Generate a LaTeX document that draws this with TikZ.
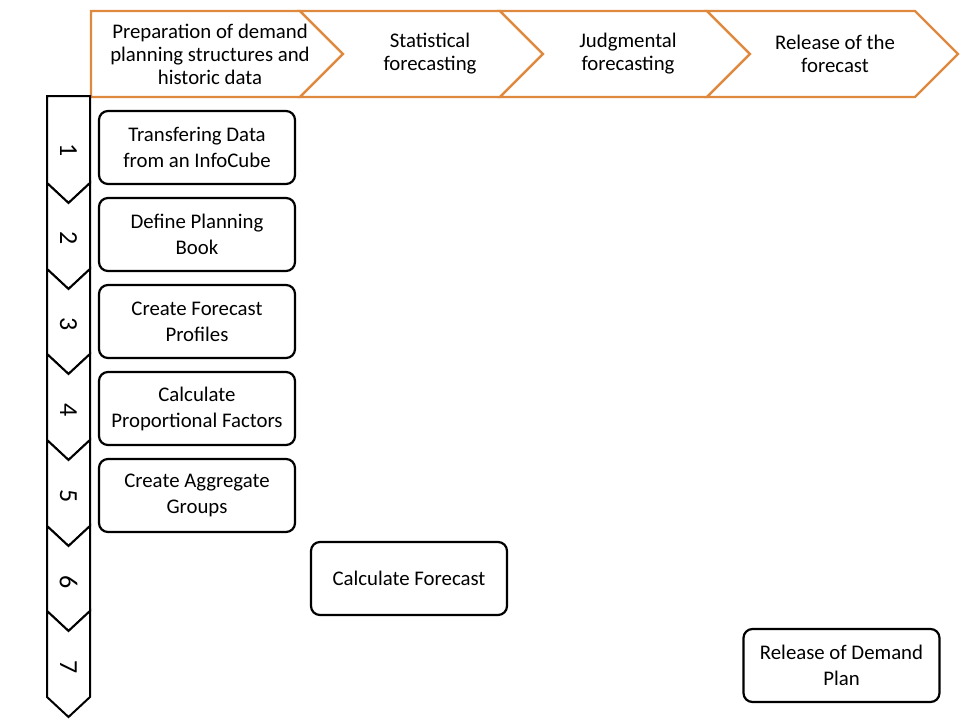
\documentclass[tikz,border=0pt]{standalone}
\usepackage{fontspec}
\setmainfont{Carlito}
\usetikzlibrary{positioning}
\definecolor{phaseorange}{RGB}{222,137,62}

\begin{document}
\begin{tikzpicture}[x=1pt, y=-1pt,
        every node/.style={font=\fontsize{20.8}{23}\selectfont, align=center},
        phase/.style={draw=phaseorange, line width=2.4pt, line join=miter, fill=white},
        stepchev/.style={draw=black, line width=2pt, line join=miter, fill=white},
        stepnum/.style={rotate=-90, font=\fontsize{26}{30}\selectfont},
        task/.style={draw, line width=2.2pt, rounded corners=9pt, fill=white,
        minimum width=196pt, minimum height=73pt,
        font=\fontsize{20.8}{26}\selectfont}]
      \useasboundingbox (0,0) rectangle (960,720);
      % phases along the top
      \draw[phase] (91,11) -- (300,11) -- (343,54) -- (300,97) -- (91,97) -- cycle;
      \draw[phase] (300,11) -- (500,11) -- (543,54) -- (500,97) -- (300,97) -- (343,54) -- cycle;
      \draw[phase] (500,11) -- (707,11) -- (750,54) -- (707,97) -- (500,97) -- (543,54) -- cycle;
      \draw[phase] (707,11) -- (915,11) -- (958,54) -- (915,97) -- (707,97) -- (750,54) -- cycle;
      \node (p1) at (210,54) {Preparation of demand\\planning structures and\\historic data};
      \node (p2) at (430,54) {Statistical\\forecasting};
      \node (p3) at (628,54) {Judgmental\\forecasting};
      \node (p4) at (835,54) {Release of the\\forecast};
      % steps down the left side
      \draw[stepchev] (47,96) -- (90,96) -- (90,183) -- (68.5,203) -- (47,183) -- cycle;
      \draw[stepchev] (47,183) -- (68.5,203) -- (90,183) -- (90,269) -- (68.5,289) -- (47,269) -- cycle;
      \draw[stepchev] (47,269) -- (68.5,289) -- (90,269) -- (90,354) -- (68.5,374) -- (47,354) -- cycle;
      \draw[stepchev] (47,354) -- (68.5,374) -- (90,354) -- (90,440) -- (68.5,460) -- (47,440) -- cycle;
      \draw[stepchev] (47,440) -- (68.5,460) -- (90,440) -- (90,526) -- (68.5,546) -- (47,526) -- cycle;
      \draw[stepchev] (47,526) -- (68.5,546) -- (90,526) -- (90,611) -- (68.5,631) -- (47,611) -- cycle;
      \draw[stepchev] (47,611) -- (68.5,631) -- (90,611) -- (90,697) -- (68.5,717) -- (47,697) -- cycle;
      \node[stepnum] (s1) at (68.5,150) {1};
      \node[stepnum] (s2) at (68.5,238) {2};
      \node[stepnum] (s3) at (68.5,324) {3};
      \node[stepnum] (s4) at (68.5,410) {4};
      \node[stepnum] (s5) at (68.5,496) {5};
      \node[stepnum] (s6) at (68.5,582) {6};
      \node[stepnum] (s7) at (68.5,667) {7};
      % tasks
      \node[task] (t1) at (197,147.5) {Transfering Data\\from an InfoCube};
      \node[task] (t2) at (197,234.5) {Define Planning\\Book};
      \node[task] (t3) at (197,321.5) {Create Forecast\\Profiles};
      \node[task] (t4) at (197,408.5) {Calculate\\Proportional Factors};
      \node[task] (t5) at (197,495.5) {Create Aggregate\\Groups};
      \node[task] (t6) at (409,578.5) {Calculate Forecast};
      \node[task] (t7) at (841.5,665.5) {Release of Demand\\Plan};
    \end{tikzpicture}
\end{document}
